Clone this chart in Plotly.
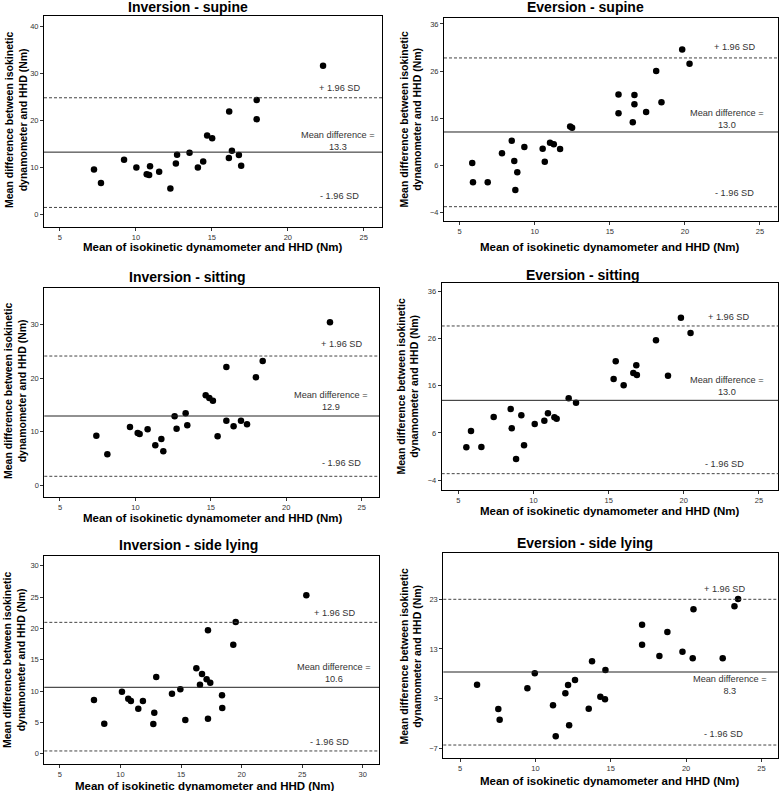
import plotly.graph_objects as go

W, H = 780, 791

# ---------------- data ----------------
panel_titles = ["Inversion - supine", "Eversion - supine",
                "Inversion - sitting", "Eversion - sitting",
                "Inversion - side lying", "Eversion - side lying"]

inv_supine_x = [7.24, 7.70, 9.22, 10.03, 10.93, 10.71, 10.87, 11.53, 12.27, 12.63, 12.71, 13.53,
                14.08, 14.43, 14.69, 15.02, 16.12, 16.14, 16.32, 16.78, 16.93, 17.95, 17.95, 22.32]
inv_supine_y = [9.65, 6.74, 11.7, 10.07, 10.35, 8.65, 8.44, 9.15, 5.6, 10.9, 12.77, 13.19,
                10.07, 11.35, 16.88, 16.3, 12.06, 21.99, 13.6, 12.7, 10.43, 24.4, 20.35, 31.7]

ev_supine_x = [5.84, 5.89, 6.87, 7.82, 8.47, 8.64, 8.84, 8.71, 9.31, 10.53, 10.67, 11.02, 11.27,
               11.69, 12.36, 12.49, 15.58, 15.58, 16.53, 16.64, 16.64, 17.42, 18.09, 18.44, 19.82, 20.31]
ev_supine_y = [6.48, 2.37, 2.37, 8.53, 11.22, 6.9, 4.5, 0.74, 9.87, 9.52, 6.76, 10.79, 10.45,
               9.44, 14.2, 13.97, 21.0, 17.03, 15.12, 20.92, 18.94, 17.3, 26.0, 19.36, 30.55, 27.57]

inv_sitting_x = [7.41, 8.14, 9.64, 10.15, 10.28, 10.81, 11.32, 11.72, 11.85, 12.60, 12.73, 13.33,
                 13.44, 14.66, 14.90, 15.14, 15.45, 16.03, 16.03, 16.51, 17.0, 17.4, 17.99, 18.44, 22.9]
inv_sitting_y = [9.27, 5.79, 10.89, 9.77, 9.58, 10.45, 7.47, 8.65, 6.35, 12.88, 10.58, 13.44,
                 11.2, 16.8, 16.3, 15.8, 9.15, 22.09, 12.07, 11.01, 12.07, 11.39, 20.16, 23.21, 30.43]

ev_sitting_x = [5.53, 5.84, 6.53, 7.35, 8.48, 8.55, 9.19, 9.37, 8.84, 10.08, 10.72, 10.96, 11.39,
                11.54, 12.34, 12.83, 15.33, 15.47, 16.0, 16.64, 16.84, 16.88, 18.15, 18.95, 19.81, 20.45]
ev_sitting_y = [2.94, 6.41, 3.01, 9.38, 11.08, 6.97, 9.73, 3.36, 0.46, 7.89, 8.6, 10.16, 9.31,
                9.03, 13.35, 12.43, 17.45, 21.2, 16.1, 18.73, 20.35, 18.3, 25.66, 18.16, 30.48, 27.22]

inv_side_x = [7.81, 8.66, 10.12, 10.64, 10.86, 11.85, 11.47, 12.71, 12.79, 12.95, 14.25, 14.94,
              15.35, 16.26, 16.56, 16.73, 17.11, 17.41, 17.22, 17.22, 18.38, 18.4, 19.31, 19.51, 25.34]
inv_side_y = [8.56, 4.79, 9.89, 8.78, 8.4, 8.4, 7.18, 4.73, 6.54, 12.23, 9.57, 10.27,
              5.37, 13.62, 11.01, 12.71, 11.86, 11.33, 5.59, 19.68, 9.31, 7.29, 17.39, 21.01, 25.27]

ev_side_x = [6.13, 7.54, 7.63, 9.47, 9.96, 11.17, 11.35, 11.99, 12.17, 12.24, 12.63, 13.54, 13.76,
             14.31, 14.62, 14.65, 17.08, 17.08, 18.23, 18.76, 19.76, 20.44, 20.49, 22.43, 23.21, 23.45]
ev_side_y = [5.82, 0.92, -1.23, 5.08, 8.1, 1.66, -4.58, 4.07, 5.75, -2.37, 6.76, 0.99, 10.52,
             3.4, 2.87, 8.77, 17.9, 13.87, 11.59, 16.42, 12.46, 11.12, 20.99, 11.12, 21.59, 23.07]

mean_diff = [13.3, 13.0, 12.9, 13.0, 10.6, 8.3]
mean_line = [13.33, 13.06, 12.94, 12.92, 10.59, 8.37]
upper_loa = [24.9, 28.78, 24.14, 28.71, 20.96, 23.0]
lower_loa = [1.56, -2.8, 1.68, -2.65, 0.43, -6.33]

x_ticks = [[5, 10, 15, 20, 25]] * 4 + [[5, 10, 15, 20, 25, 30], [5, 10, 15, 20, 25]]
y_ticks = [[0, 10, 20, 30, 40], [-4, 6, 16, 26, 36], [0, 10, 20, 30],
           [-4, 6, 16, 26, 36], [0, 5, 10, 15, 20, 25, 30], [-7, 3, 13, 23]]

xs = [inv_supine_x, ev_supine_x, inv_sitting_x, ev_sitting_x, inv_side_x, ev_side_x]
ys = [inv_supine_y, ev_supine_y, inv_sitting_y, ev_sitting_y, inv_side_y, ev_side_y]

x_title = "Mean of isokinetic dynamometer and HHD (Nm)"
y_title = "Mean difference between isokinetic<br>dynamometer and HHD (Nm)"

# ---------------- layout geometry (pixels) ----------------
boxes = [  # left, right, top, bottom in px
    (44, 382, 16, 227), (444, 778, 18.3, 221),
    (44.3, 379, 287.7, 497.3), (441.7, 778.3, 283.3, 490),
    (44.3, 379, 555.7, 764.3), (443.3, 777.7, 553.3, 758.3)]
x_ranges = [(3.95, 26.2), (3.96, 26.2), (3.96, 26.15), (3.89, 26.29), (3.71, 31.34), (3.89, 26.08)]
y_ranges = [(-2.6, 42.3), (-5.84, 37.2), (-2.24, 36.9), (-6.12, 37.77), (-1.7, 31.6), (-9.0, 32.26)]
title_pos = [(188, 7), (585, 7), (187, 277), (583, 275), (188, 545), (585, 543)]
xtitle_pos = [(213, 247), (610, 247), (213, 518), (610, 511), (205, 786), (610, 781)]
ytitle_pos = [(16, 120), (410.5, 120), (15, 391), (407.5, 387), (14, 660), (410.5, 657)]
# label positions in data units: (+SD x, +SD y, mean x, mean y, -SD x, -SD y)
lab_pos = [(23.4, 27.0, 23.3, 15.8, 23.4, 4.0),
           (23.3, 31.0, 22.8, 15.9, 23.3, 0.0),
           (23.67, 26.3, 23.0, 15.7, 23.67, 4.23),
           (22.96, 30.7, 22.9, 16.0, 22.74, -0.53),
           (27.65, 22.45, 27.65, 12.9, 27.24, 1.91),
           (22.54, 25.15, 22.9, 5.75, 22.48, -4.11)]


def px(x):
    return x / W


def py(y):
    return 1 - y / H


fig = go.Figure()
annotations = []
shapes = []
font_fam = "Liberation Sans, Arial, sans-serif"

for i in range(6):
    n = i + 1
    xa = "x" if n == 1 else f"x{n}"
    ya = "y" if n == 1 else f"y{n}"
    l, r, t, b = boxes[i]
    fig.add_trace(go.Scatter(
        x=xs[i], y=ys[i], mode="markers", xaxis=xa, yaxis=ya,
        marker=dict(color="black", size=6.5, line=dict(width=0)),
        showlegend=False, hoverinfo="x+y"))
    axis_common = dict(showline=True, mirror=True, linecolor="black", linewidth=1,
                       showgrid=False, zeroline=False, ticks="outside", ticklen=3,
                       tickcolor="#333", tickfont=dict(size=7.5, color="#333", family=font_fam))
    fig.update_layout(**{
        ("xaxis" if n == 1 else f"xaxis{n}"): dict(
            domain=[px(l), px(r)], range=list(x_ranges[i]), tickvals=x_ticks[i],
            anchor=ya, **axis_common),
        ("yaxis" if n == 1 else f"yaxis{n}"): dict(
            domain=[py(b), py(t)], range=list(y_ranges[i]), tickvals=y_ticks[i],
            anchor=xa, **axis_common),
    })
    xd = f"{xa} domain"
    shapes.append(dict(type="line", xref=xd, yref=ya, x0=0, x1=1,
                       y0=mean_line[i], y1=mean_line[i], line=dict(color="#222", width=1)))
    for v in (upper_loa[i], lower_loa[i]):
        shapes.append(dict(type="line", xref=xd, yref=ya, x0=0, x1=1, y0=v, y1=v,
                           line=dict(color="#444", width=1, dash="3px,2px")))
    lp = lab_pos[i]
    lab_font = dict(size=9.2, color="#333", family=font_fam)
    cm = dict(showarrow=False, xanchor="center", yanchor="middle")
    annotations += [
        dict(x=lp[0], y=lp[1], xref=xa, yref=ya, text="+ 1.96 SD", font=lab_font, **cm),
        dict(x=lp[2], y=lp[3], xref=xa, yref=ya, text=f"Mean difference =<br>{mean_diff[i]:.1f}",
             font=lab_font, align="center", **cm),
        dict(x=lp[4], y=lp[5], xref=xa, yref=ya, text="- 1.96 SD", font=lab_font, **cm),
        dict(x=px(title_pos[i][0]), y=py(title_pos[i][1]), xref="paper", yref="paper",
             text=f"<b>{panel_titles[i]}</b>",
             font=dict(size=14, color="black", family=font_fam), **cm),
        dict(x=px(xtitle_pos[i][0]), y=py(xtitle_pos[i][1]), xref="paper", yref="paper",
             text=f"<b>{x_title}</b>",
             font=dict(size=11.5, color="black", family=font_fam), **cm),
        dict(x=px(ytitle_pos[i][0]), y=py(ytitle_pos[i][1]), xref="paper", yref="paper",
             text=f"<b>{y_title}</b>", textangle=-90,
             font=dict(size=10.5, color="black", family=font_fam), **cm),
    ]

fig.update_layout(width=W, height=H, margin=dict(l=0, r=0, t=0, b=0),
                  plot_bgcolor="white", paper_bgcolor="white",
                  annotations=annotations, shapes=shapes, showlegend=False)

fig.write_html("out.html", config={"displayModeBar": False},
               post_script="document.body.style.margin='0';document.body.style.overflow='hidden';")
